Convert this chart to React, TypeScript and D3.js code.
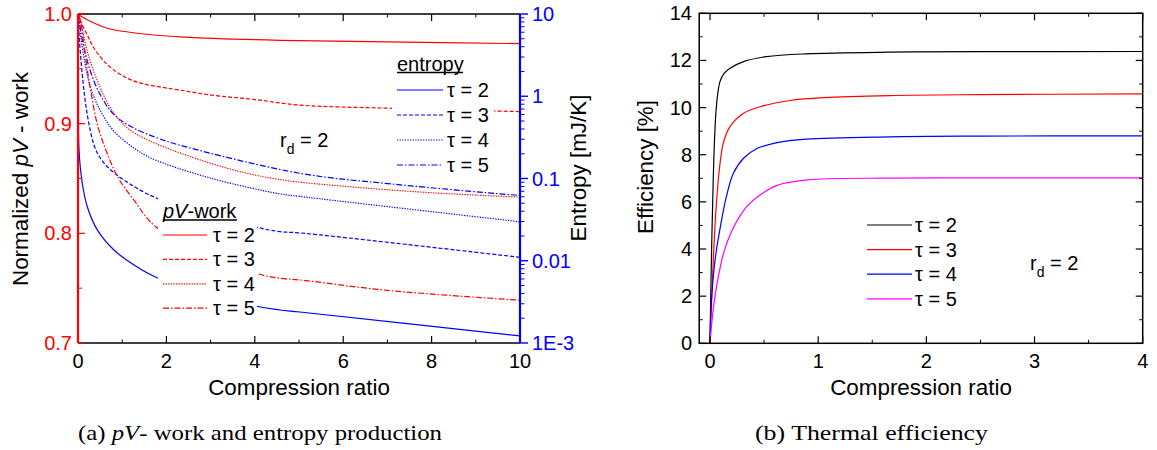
import React from 'react';
import * as d3 from 'd3';

// ---------- Data ----------
const tauLabels = ['τ = 2', 'τ = 3', 'τ = 4', 'τ = 5'];

// (a) normalized pV-work vs compression ratio
const pvTau2: [number, number][] = [[0, 1.0], [0.02, 0.9994], [0.14, 0.9964], [0.36, 0.9918], [0.66, 0.987], [1.43, 0.982], [2.4, 0.979], [4.57, 0.976], [7, 0.9745], [10, 0.973]];
const pvTau3: [number, number][] = [[0, 1.0], [0.06, 0.9933], [0.21, 0.981], [0.36, 0.969], [0.66, 0.954], [1.04, 0.943], [1.42, 0.937], [2.4, 0.93], [3.03, 0.926], [4, 0.922], [5, 0.917], [7.1, 0.914], [10, 0.911]];
const pvTau4: [number, number][] = [[0, 1.0], [0.06, 0.993], [0.21, 0.966], [0.44, 0.939], [0.74, 0.914], [1.12, 0.896], [1.64, 0.884], [2.4, 0.872], [3.5, 0.858], [4.57, 0.849], [6, 0.843], [8, 0.837], [10, 0.833]];
const pvTau5: [number, number][] = [[0, 1.0], [0.06, 0.9933], [0.17, 0.96], [0.29, 0.9295], [0.44, 0.899], [0.63, 0.876], [0.89, 0.852], [1.27, 0.83], [1.79, 0.805], [4.0, 0.764], [4.57, 0.759], [5.02, 0.7575], [7, 0.748], [10, 0.739]];

// (a) entropy production [mJ/K] vs compression ratio (log axis)
const entTau2: [number, number][] = [[0, 30], [0.004, 8], [0.012, 1.0], [0.023, 0.222], [0.097, 0.0875], [0.21, 0.0454], [0.437, 0.0237], [0.814, 0.0135], [1.267, 0.00888], [1.79, 0.00622], [4.0, 0.00282], [4.57, 0.00252], [5.02, 0.00238], [10, 0.00122]];
const entTau3: [number, number][] = [[0, 14], [0.011, 7.41], [0.097, 1.83], [0.21, 0.597], [0.362, 0.255], [0.475, 0.188], [0.663, 0.139], [1.04, 0.0959], [1.79, 0.0574], [4.0, 0.0259], [4.57, 0.0226], [5.02, 0.0218], [10, 0.011]];
const entTau4: [number, number][] = [[0, 14], [0.023, 8.15], [0.136, 2.92], [0.287, 1.26], [0.514, 0.656], [0.814, 0.375], [1.267, 0.235], [1.645, 0.1775], [3.0, 0.101], [4.57, 0.065], [5.02, 0.0605], [10, 0.0298]];
const entTau5: [number, number][] = [[0, 14], [0.023, 8.94], [0.136, 3.86], [0.362, 1.52], [0.588, 0.869], [0.814, 0.597], [1.19, 0.431], [1.79, 0.311], [2.4, 0.246], [5.02, 0.1157], [7.1, 0.0857], [10, 0.0621]];

// (b) thermal efficiency [%] vs compression ratio
const effTau2: [number, number][] = [[0, 0], [0.006, 1.8], [0.018, 4.7], [0.03, 7.0], [0.045, 9.0], [0.062, 10.2], [0.092, 11.1], [0.13, 11.45], [0.185, 11.67], [0.31, 11.95], [0.52, 12.16], [0.89, 12.28], [1.66, 12.35], [2.5, 12.37], [4, 12.38]];
const effTau3: [number, number][] = [[0, 0], [0.015, 1.84], [0.03, 3.5], [0.046, 5.0], [0.062, 6.1], [0.08, 7.1], [0.1, 7.9], [0.123, 8.5], [0.185, 9.19], [0.31, 9.76], [0.49, 10.07], [0.74, 10.3], [1.05, 10.42], [1.66, 10.51], [2.5, 10.55], [4, 10.58]];
const effTau4: [number, number][] = [[0, 0], [0.006, 1.13], [0.025, 2.55], [0.055, 3.82], [0.11, 5.3], [0.15, 6.2], [0.215, 7.2], [0.31, 7.85], [0.43, 8.25], [0.62, 8.51], [0.89, 8.66], [1.66, 8.76], [2.5, 8.79], [4, 8.8]];
const effTau5: [number, number][] = [[0, 0], [0.015, 0.8], [0.04, 1.8], [0.08, 2.9], [0.13, 3.9], [0.2, 4.75], [0.27, 5.35], [0.35, 5.85], [0.45, 6.25], [0.62, 6.7], [0.9, 6.93], [1.6, 7.01], [2.5, 7.02], [4, 7.02]];

const leftXTicks = [0, 2, 4, 6, 8, 10];
const leftYTicks = [0.7, 0.8, 0.9, 1.0];
const entTicks = [0.001, 0.01, 0.1, 1, 10];
const entTickLabels = ['1E-3', '0.01', '0.1', '1', '10'];
const rightXTicks = [0, 1, 2, 3, 4];
const rightYTicks = [0, 2, 4, 6, 8, 10, 12, 14];

const SANS = "'Liberation Sans', Arial, Helvetica, sans-serif";
const SERIF = "'Liberation Serif', 'DejaVu Serif', serif";
const RED = '#ff0000';
const BLUE = '#0000ff';
const MAGENTA = '#ff00ff';
const DASHES = ['', '4,2', '1.3,1.3', '6,2,1.5,2'];

export default function App() {
  // left panel scales
  const lx = d3.scaleLinear().domain([0, 10]).range([78, 520]);
  const ly = d3.scaleLinear().domain([0.7, 1.0]).range([343, 14]);
  const le = d3.scaleLog().domain([0.001, 10]).range([343, 14]);
  // right panel scales
  const rx = d3.scaleLinear().domain([-0.1, 4]).range([699.2, 1142.7]);
  const ry = d3.scaleLinear().domain([0, 14]).range([343.3, 13.3]);

  const curve = d3.curveCatmullRom.alpha(0.5);
  const pvLine = d3.line<[number, number]>().x(d => lx(d[0])).y(d => ly(d[1])).curve(curve);
  const entLine = d3.line<[number, number]>().x(d => lx(d[0])).y(d => le(Math.max(d[1], 1e-6))).curve(curve);
  const effLine = d3.line<[number, number]>().x(d => rx(d[0])).y(d => ry(d[1])).curve(curve);

  const pvSeries = [pvTau2, pvTau3, pvTau4, pvTau5];
  const entSeries = [entTau2, entTau3, entTau4, entTau5];
  const effSeries = [effTau2, effTau3, effTau4, effTau5];
  const effColors = ['#000000', RED, BLUE, MAGENTA];

  const L = { x0: 78, x1: 520, y0: 14, y1: 343 };
  const R = { x0: 699.2, x1: 1142.7, y0: 13.3, y1: 343.3 };

  const leftMinorX = d3.range(1, 10, 2);
  const leftMinorY = [0.75, 0.85, 0.95];
  const entMinor: number[] = [];
  [0.001, 0.01, 0.1, 1].forEach(dec => { for (let k = 2; k <= 9; k++) entMinor.push(dec * k); });
  const rightMinorX = [0.5, 1.5, 2.5, 3.5];
  const rightMinorY = d3.range(1, 14, 2);

  return (
    <svg width={1157} height={450} style={{ position: 'absolute', left: 0, top: 0, background: '#fff' }} fontFamily={SANS}>
      <defs>
        <clipPath id="clipL"><rect x={L.x0} y={L.y0} width={L.x1 - L.x0} height={L.y1 - L.y0} /></clipPath>
        <clipPath id="clipR"><rect x={R.x0} y={R.y0} width={R.x1 - R.x0} height={R.y1 - R.y0} /></clipPath>
      </defs>
      <rect width={1157} height={450} fill="#fff" />

      {/* ================= LEFT PANEL ================= */}
      <g clipPath="url(#clipL)" fill="none" strokeWidth={1.2}>
        {entSeries.map((s, i) => (
          <path key={'e' + i} d={entLine(s) || ''} stroke={BLUE} strokeDasharray={DASHES[i]} />
        ))}
        {pvSeries.map((s, i) => (
          <path key={'p' + i} d={pvLine(s) || ''} stroke={RED} strokeDasharray={DASHES[i]} />
        ))}
      </g>

      {/* legend backgrounds */}
      <rect x={158} y={192} width={99} height={138} fill="#fff" />
      <rect x={392} y={50} width={102} height={125} fill="#fff" />

      {/* frame */}
      <line x1={L.x0} x2={L.x1} y1={L.y0} y2={L.y0} stroke="#000" strokeWidth={1.5} />
      <line x1={L.x0} x2={L.x1} y1={L.y1} y2={L.y1} stroke="#000" strokeWidth={1.5} />
      {leftXTicks.map(t => (
        <g key={'lxt' + t}>
          <line x1={lx(t)} x2={lx(t)} y1={L.y1} y2={L.y1 - 7} stroke="#000" strokeWidth={1.2} />
          <line x1={lx(t)} x2={lx(t)} y1={L.y0} y2={L.y0 + 7} stroke="#000" strokeWidth={1.2} />
          <text x={lx(t)} y={368} fontSize={20} textAnchor="middle" fill="#000">{t}</text>
        </g>
      ))}
      {leftMinorX.map(t => (
        <g key={'lxm' + t}>
          <line x1={lx(t)} x2={lx(t)} y1={L.y1} y2={L.y1 - 3.5} stroke="#000" strokeWidth={1} />
          <line x1={lx(t)} x2={lx(t)} y1={L.y0} y2={L.y0 + 3.5} stroke="#000" strokeWidth={1} />
        </g>
      ))}
      {/* left red axis */}
      <line x1={L.x0} x2={L.x0} y1={L.y0} y2={L.y1} stroke={RED} strokeWidth={2.2} />
      {leftYTicks.map(t => (
        <g key={'lyt' + t}>
          <line x1={L.x0} x2={L.x0 + 7} y1={ly(t)} y2={ly(t)} stroke={RED} strokeWidth={1.2} />
          <text x={72} y={ly(t) + 7} fontSize={20} textAnchor="end" fill={RED}>{t.toFixed(1)}</text>
        </g>
      ))}
      {leftMinorY.map(t => (
        <line key={'lym' + t} x1={L.x0} x2={L.x0 + 4} y1={ly(t)} y2={ly(t)} stroke={RED} strokeWidth={1} />
      ))}
      {/* right blue log axis */}
      <line x1={L.x1} x2={L.x1} y1={L.y0} y2={L.y1} stroke={BLUE} strokeWidth={2.2} />
      {entTicks.map((t, i) => (
        <g key={'et' + t}>
          <line x1={L.x1} x2={L.x1 + 8} y1={le(t)} y2={le(t)} stroke={BLUE} strokeWidth={1.4} />
          <text x={532} y={le(t) + 7} fontSize={20} textAnchor="start" fill={BLUE}>{entTickLabels[i]}</text>
        </g>
      ))}
      {entMinor.map(t => (
        <line key={'em' + t} x1={L.x1} x2={L.x1 + 4.5} y1={le(t)} y2={le(t)} stroke={BLUE} strokeWidth={1} />
      ))}

      {/* axis titles */}
      <text x={299} y={395} fontSize={22.4} textAnchor="middle" fill="#000">Compression ratio</text>
      <text transform="translate(28,179) rotate(-90)" fontSize={22.4} textAnchor="middle" fill="#000">
        Normalized  <tspan fontStyle="italic">pV</tspan> - work
      </text>
      <text transform="translate(586,168) rotate(-90)" fontSize={22.4} textAnchor="middle" fill="#000">Entropy [mJ/K]</text>

      {/* r_d label */}
      <text x={280} y={147} fontSize={20} fill="#000">r<tspan fontSize={14} dy={7}>d</tspan><tspan dy={-7}> = 2</tspan></text>

      {/* entropy legend */}
      <text x={397} y={70.5} fontSize={20} fill="#000">entropy</text>
      <line x1={397} x2={463} y1={72.5} y2={72.5} stroke="#000" strokeWidth={1.3} />
      {tauLabels.map((lab, i) => {
        const y = 90 + i * 25;
        return (
          <g key={'el' + i}>
            <line x1={397} x2={443} y1={y} y2={y} stroke={BLUE} strokeWidth={1.2} strokeDasharray={DASHES[i]} />
            <text x={447} y={y + 7} fontSize={20} fill="#000">{lab}</text>
          </g>
        );
      })}

      {/* pV-work legend */}
      <text x={163} y={218} fontSize={20} fill="#000"><tspan fontStyle="italic">pV</tspan>-work</text>
      <line x1={163} x2={237} y1={220} y2={220} stroke="#000" strokeWidth={1.3} />
      {tauLabels.map((lab, i) => {
        const y = 235 + i * 24.4;
        return (
          <g key={'pl' + i}>
            <line x1={163} x2={207} y1={y} y2={y} stroke={RED} strokeWidth={1.2} strokeDasharray={DASHES[i]} />
            <text x={213} y={y + 7} fontSize={20} fill="#000">{lab}</text>
          </g>
        );
      })}

      {/* ================= RIGHT PANEL ================= */}
      <g clipPath="url(#clipR)" fill="none" strokeWidth={1.2}>
        {effSeries.map((s, i) => (
          <path key={'f' + i} d={effLine(s) || ''} stroke={effColors[i]} />
        ))}
      </g>
      <rect x={R.x0} y={R.y0} width={R.x1 - R.x0} height={R.y1 - R.y0} fill="none" stroke="#000" strokeWidth={1.5} />
      {rightXTicks.map(t => (
        <g key={'rxt' + t}>
          <line x1={rx(t)} x2={rx(t)} y1={R.y1} y2={R.y1 - 7} stroke="#000" strokeWidth={1.2} />
          <line x1={rx(t)} x2={rx(t)} y1={R.y0} y2={R.y0 + 7} stroke="#000" strokeWidth={1.2} />
          <text x={rx(t)} y={368} fontSize={20} textAnchor="middle" fill="#000">{t}</text>
        </g>
      ))}
      {rightMinorX.map(t => (
        <g key={'rxm' + t}>
          <line x1={rx(t)} x2={rx(t)} y1={R.y1} y2={R.y1 - 3.5} stroke="#000" strokeWidth={1} />
          <line x1={rx(t)} x2={rx(t)} y1={R.y0} y2={R.y0 + 3.5} stroke="#000" strokeWidth={1} />
        </g>
      ))}
      {rightYTicks.map(t => (
        <g key={'ryt' + t}>
          <line x1={R.x0} x2={R.x0 + 7} y1={ry(t)} y2={ry(t)} stroke="#000" strokeWidth={1.2} />
          <line x1={R.x1} x2={R.x1 - 7} y1={ry(t)} y2={ry(t)} stroke="#000" strokeWidth={1.2} />
          <text x={692} y={ry(t) + 7} fontSize={20} textAnchor="end" fill="#000">{t}</text>
        </g>
      ))}
      {rightMinorY.map(t => (
        <g key={'rym' + t}>
          <line x1={R.x0} x2={R.x0 + 3.5} y1={ry(t)} y2={ry(t)} stroke="#000" strokeWidth={1} />
          <line x1={R.x1} x2={R.x1 - 3.5} y1={ry(t)} y2={ry(t)} stroke="#000" strokeWidth={1} />
        </g>
      ))}
      <text x={921} y={395} fontSize={22.4} textAnchor="middle" fill="#000">Compression ratio</text>
      <text transform="translate(653,167) rotate(-90)" fontSize={22.4} textAnchor="middle" fill="#000">Efficiency [%]</text>

      {/* right legend */}
      {tauLabels.map((lab, i) => {
        const y = 225 + i * 24.6;
        return (
          <g key={'rl' + i}>
            <line x1={867} x2={912} y1={y} y2={y} stroke={effColors[i]} strokeWidth={1.2} />
            <text x={915} y={y + 7} fontSize={20} fill="#000">{lab}</text>
          </g>
        );
      })}
      <text x={1030} y={270} fontSize={20} fill="#000">r<tspan fontSize={14} dy={7}>d</tspan><tspan dy={-7}> = 2</tspan></text>

      {/* captions */}
      <text x={78} y={440} fontSize={22} fontFamily={SERIF} fill="#000" textLength={364} lengthAdjust="spacingAndGlyphs">
        (a)  <tspan fontStyle="italic">pV</tspan>- work and entropy production
      </text>
      <text x={755} y={440} fontSize={22} fontFamily={SERIF} fill="#000" textLength={233} lengthAdjust="spacingAndGlyphs">
        (b)  Thermal efficiency
      </text>
    </svg>
  );
}
